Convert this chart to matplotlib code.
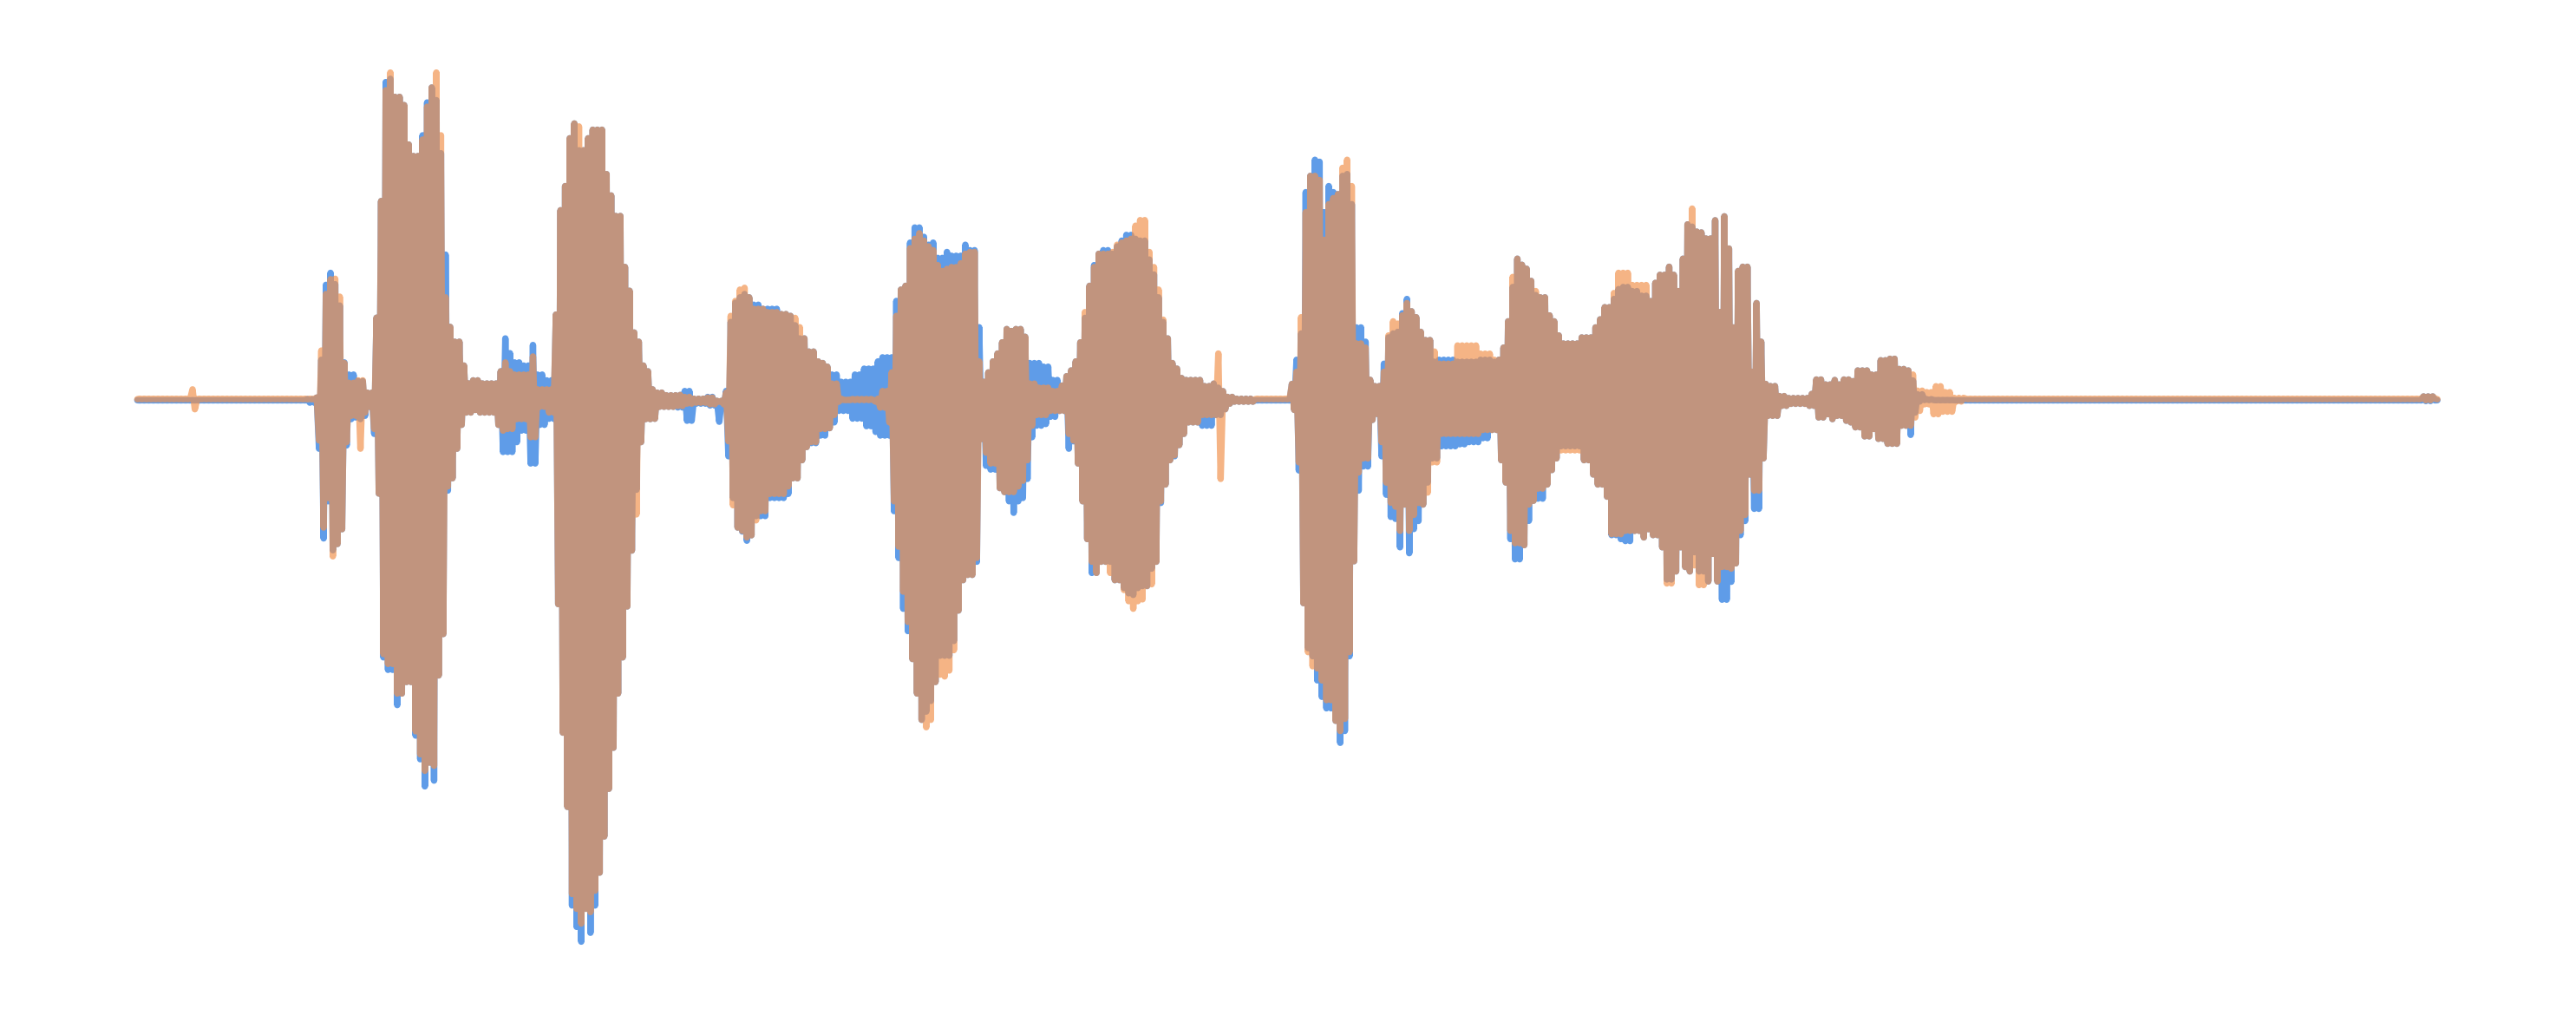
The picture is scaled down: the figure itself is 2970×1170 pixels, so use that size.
import numpy as np
import matplotlib
matplotlib.use('Agg')
import matplotlib.pyplot as plt

# Envelope of the two channels: left edge of each stretch
# and the peak reached up / down in it for each channel
edges = [
    83.6,117,120,186,192.4,194.2,195.9,199.3,200.6,204,206.2,
    208.8,211.4,216.1,217.9,220.9,222.6,226.9,229,231.2,233.4,
    236,239.8,244.1,247,250.6,255.6,258.2,261.4,263.5,266.1,
    268.5,271,273.2,276.5,279.7,282.5,287.2,291.5,302.3,305.6,
    308.8,312,317.4,321.7,326,332.5,337.2,339.4,342.2,344.3,
    346.5,348.7,351.9,354.5,357.9,360.5,363.8,367,369.1,371.7,
    374.5,377.8,379.9,382.1,385.3,387.5,389.6,392.8,396.1,399.3,
    403.6,411.8,416.5,422.4,429.5,435.4,440,442.4,444.8,447.2,
    449.5,451.9,454.7,457.8,462.5,466,474.3,479,481.3,486,
    489.6,491.9,495.5,499,502.5,506,509.6,513.2,517.9,525,
    532,535.5,540.3,543.3,546.1,549,551.3,553.7,556,558.4,
    560.8,563.1,566.2,568.5,570.9,573.3,575.6,579.2,582.7,586.2,
    588.6,593.3,595.6,596.8,599.2,602.7,606.3,608.6,611,613.3,
    615.7,618,621.6,625.1,626.8,629.8,634.5,639.3,644,647.5,
    649.9,652.2,655.7,658.1,661.6,664,666.4,669.9,674.6,678.1,
    681.7,685.2,687.6,689.9,693.5,697,699.4,701.7,704.1,706.4,
    708.8,711.1,713.5,715.9,718.2,721.7,731.2,738.2,740.6,743.7,
    746.5,751.2,763,786.2,787.9,790.2,792.6,794.9,797.3,799.7,
    802.7,805.8,807.4,810.5,812.9,815.2,817.6,820.4,823.2,825.6,
    829.4,832.7,834.5,838.1,840.7,842.6,845.4,848.2,851,853.9,
    855.8,858.6,861.6,864,867.5,871.1,875.8,886.4,893.5,900.5,
    907.6,912.3,914.7,917,919.4,921.7,924.1,927.6,930,932.4,
    935.9,940.6,944.1,946.5,950,961.8,968.9,972.4,976,980.7,
    984.2,987.7,992.5,998.3,1003,1005.4,1010.1,1013.7,1018.4,1020.7,
    1023.1,1025.5,1027.8,1031.4,1033.7,1037.2,1041.5,1043.1,1046.7,1047.9,
    1051.4,1054.9,1057.3,1060.8,1064.3,1066.7,1071.4,1073.8,1076.1,1083.2,
    1087.9,1100.9,1105.6,1110.4,1114.7,1117.5,1121.8,1126,1129,1134.7,
    1139,1143.3,1149,1154.7,1160.5,1163.3,1166.2,1170.5,1176.2,1182,
    1189,1196.2,1475,1481,1484,
]

blue_top = [
    1.4,1.4,1.4,2,3,26,71.6,44,78.9,72,59,
    24.4,17,12,13,10,6,13.5,51.6,122.6,195,
    197,186,181,157,150,162.6,182.6,191.7,184,151.7,
    119,90,46,37,22.5,11.6,13.5,11.6,19,39,
    30,24.4,22.5,35,17,13.5,53.5,117,131.7,142.6,
    160.8,169.8,153.5,153.5,160.8,166,166,155,139,126,
    113.5,97,82.5,68,42.6,37,22.5,19,8,6,
    4.4,4.6,7,2.3,3.4,1,7,29.8,49,60.7,
    64,66,64,59.5,57,57,53.8,52.7,47,39,
    39,31,25,24,21.8,17,12.6,12.6,17,20.6,
    25,27.5,27.5,61.8,68.7,71,87,97.3,106.5,106.5,
    100.8,96,97.3,88,82.4,88,91.6,89.3,89.3,96,
    92.7,75.6,45.8,12.6,18.3,25,29.8,36.6,44.7,43.5,
    48,44.7,40,36.6,24,24,21.8,13.7,10.3,16,
    19.5,25,36.6,51.5,71,83.6,90.5,92.7,90.5,95,
    98.5,102,102,99.6,98.5,93,87,77.9,64,49,
    39,33,24,20.6,14.9,13.7,10,11.5,9,6.9,
    3.4,2.3,1.4,11.3,26,42,128,144,137.9,147.7,
    146.5,115.8,131.7,128,126.8,137.9,139,120.7,81.4,45.7,
    37,13.8,10,10,23.6,39.6,42,43,54.3,42,
    63,55.5,51.9,43,38,24.8,26,24.8,24.8,26,
    24.8,26,33.4,49.4,70.3,87.5,83.8,81.4,74,65.4,
    64,53,49.4,40.8,35.9,39.6,45.7,50.6,58,63,
    69,70.3,67.8,65,61.7,72.8,77.7,82.6,77.7,67.8,
    87.5,108.4,107,104,103.5,99.8,87.5,110.9,55,113.3,
    93.7,45.7,80,82.6,18.7,60.5,37,11.3,10,3.9,
    2.7,5.2,14,11,13.7,11,14,13,19.5,19.5,
    17,25.7,26.6,20.4,19.5,13.4,5,2,1.4,1.4,
    1.4,1.4,3.7,1.4,1.4,
]

blue_bot = [
    -2.6,-2.6,-2.6,-4,-5,-32,-86.6,-64,-93.8,-90,-81,
    -30,-14,-13,-14,-12,-6.5,-23,-59.3,-115.7,-159,
    -166.6,-188,-181,-174,-206.6,-221,-237.5,-223,-234,-170,
    -144.8,-57.5,-50,-32,-17.5,-10,-8.4,-10,-17.5,-34,
    -34,-28,-21,-41,-17.5,-13.8,-64.7,-126.6,-204.8,-250,
    -310,-323,-332,-312,-326.6,-310,-290,-268,-239,-214,
    -181,-159,-128,-94,-57,-36,-28,-14,-13.8,-6.5,
    -6.5,-6.9,-15,-4.6,-5.7,-15.6,-6,-36.6,-62,-80,
    -82.4,-88,-84.7,-73,-73,-62,-62,-59.5,-50,-39,
    -31,-28.6,-28.6,-24,-19.5,-16,-9,-9,-13.7,-18.3,
    -21.8,-24,-24,-70,-98.5,-129.4,-143,-160,-181,-197,
    -197,-192,-185.5,-174,-158,-158,-158,-149,-130.5,-112,
    -108.8,-100.8,-41,-26,-42.4,-44.7,-49,-56,-58.4,-64,
    -71,-64,-62,-50.4,-25,-18,-17,-12.6,-9,-9,
    -32,-27.5,-41,-64,-87,-107.6,-107.6,-100.8,-100.8,-112,
    -116.8,-120,-121,-116.8,-115.6,-115.6,-105,-100.8,-85.9,-65,
    -53.8,-39,-36.6,-29.8,-23,-16,-18,-11.5,-11.5,-8,
    -4.6,-3.4,-2.6,-8.4,-24.3,-45.2,-126,-153.4,-158.3,-173,
    -183,-173,-190,-197.6,-197.6,-211,-203.8,-158.3,-100.5,-57.5,
    -42.8,-28,-14.5,-10.8,-36.6,-60,-73.5,-74.7,-92,-66,
    -95.6,-80.9,-76,-66,-52.6,-37.9,-30.5,-29.3,-28,-25.6,
    -20.6,-39,-52.6,-87,-87,-99.3,-99.3,-90.7,-75.9,-63.7,
    -62.4,-53.8,-45,-37.9,-30.5,-39,-47.7,-53.8,-61.2,-84.6,
    -87,-88.2,-82,-86,-81,-84.6,-92,-111.6,-106.7,-92,
    -101.8,-104,-106.7,-95,-106.7,-112.8,-96,-112.8,-100,-123.9,
    -113,-101.8,-84.6,-76,-47.7,-68.6,-37.9,-13.3,-12,-5.9,
    -4.7,-5.9,-13,-11,-14,-12,-15,-16,-19,-24.5,
    -20,-26,-29,-18,-23.6,-10,-3.3,-2.4,-2.4,-2.4,
    -2.6,-2.6,-3,-2.6,-2.6,
]

orange_top = [
    2,8,2,2,3,31.6,66,44,75,75.3,64.4,
    24,12,8,13.5,8,6,12,51.6,122.6,190,
    200.8,186,181,157,150,160,180,191.7,200.8,162.6,
    119,64,46,37,22.5,11.6,13.5,11.6,19,24.4,
    19,17,17,28,8,8,53.5,117,131.7,142.6,
    160.8,169.8,168,153.5,160.8,166,166,155,139,126,
    113.5,97,82.5,68,42.6,37,22.5,19,8,6,
    4.4,4.6,3.4,2.3,3,1,6,29.8,52.7,61.8,
    68.7,69.8,64,57,57,55,53.8,52.7,51.5,45.8,
    39,31,25,24,21.8,11.5,2.3,1.5,1.5,1.5,
    2.3,7,18.3,52.7,68.7,71,80,93.9,99.6,103,
    98.5,95,92.7,83.6,77.9,80,81.3,82.4,84.7,90.5,
    91.6,75.6,25,12.6,18.3,25,29.8,36.6,44.7,43.5,
    45.8,44.7,40,36.6,11.5,9,9,7,10.3,16,
    19.5,25,36.6,55,71,82.4,90.5,90.5,91.6,96,
    97.3,98.5,99.6,107.6,111,98.5,91.6,82.4,68.7,50.4,
    39,33,24,20.6,14.9,13.7,10,11.5,29.8,6.9,
    3.4,2.3,2,11.3,18.7,51.9,115.8,135.4,137.9,137.9,
    135.4,99,120.7,124.4,126.8,142.8,147.7,131.7,81.4,35.9,
    33.4,13.8,10,10,18.7,40.8,49.4,48,53,42,
    60.5,55.5,51.9,43,38,31,23.6,34.7,34.7,29.7,
    26,26,33.4,49.4,76.4,87.5,83.8,81.4,74,67.8,
    64,53,49.4,40.8,35.9,39.6,45.7,50.6,58,66.6,
    78.9,78.9,71.5,71.5,61.7,72.8,77.7,82.6,77.7,67.8,
    87.5,108.4,118,104,103.5,99.8,87.5,110.9,55,113.3,
    93.7,45.7,80,82.6,18.7,60.5,37,11.3,10,3.9,
    2.7,5.2,14,11,13.7,11,14,13,19.5,19.5,
    17,25.7,26.6,20.4,19.5,17,7.2,6.3,9.9,6.3,
    2.8,2,3.7,2,2,
]

orange_bot = [
    -1.6,-8,-1.6,-1.6,-3,-27,-80,-62,-97.5,-90,-81,
    -28,-12,-12,-32,-10,-6.5,-20,-59.3,-115.7,-157,
    -163,-181,-181,-174,-204,-218,-228,-223,-225,-170,
    -144.8,-55,-50,-32,-17.5,-10,-8.4,-10,-17.5,-21,
    -20,-14,-14,-25,-6.5,-10,-64.7,-126.6,-204.8,-250,
    -303,-312,-321,-312,-314,-301,-290,-268,-239,-214,
    -181,-159,-128,-94,-72,-57,-28,-14,-13.8,-6.5,
    -6.5,-6,-4.6,-4,-5,-3.4,-5,-27.5,-66.4,-80,
    -82,-86,-84.7,-75.6,-70,-59.5,-59.5,-55,-50,-39,
    -31,-28,-28,-20,-19.5,-11.5,-3.4,-2.3,-1.8,-1.8,
    -3.4,-7,-16,-64,-91.6,-119,-137.4,-160,-181,-194.6,
    -197,-201.5,-197,-174,-169.5,-170.6,-167,-154.6,-130.5,-112,
    -108.8,-98.5,-41,-26,-34.4,-41,-43.5,-56,-58.4,-58.4,
    -58.4,-55,-51.5,-39,-18,-11.5,-11.5,-9,-9,-9,
    -23,-27,-41,-64,-87,-100.8,-107.6,-100.8,-107.6,-112,
    -118,-124.8,-129.4,-124.8,-123.7,-115.6,-114.5,-100.8,-80,-64,
    -53.8,-39,-36,-29.8,-23,-16,-11.5,-11.5,-50.4,-8,
    -4.6,-3.4,-1.6,-8.4,-13.3,-40.3,-126,-155.8,-164.4,-165.7,
    -173,-165,-185,-197.6,-197.6,-203.8,-196.4,-155.8,-100.5,-46.5,
    -37.9,-28,-14.5,-10.8,-28,-52.6,-64.9,-67.3,-82,-66,
    -82,-72.3,-65,-66,-58.7,-40.3,-23,-23,-23,-20.6,
    -20.6,-39,-52.6,-87,-82,-89.5,-89.5,-90.7,-66,-63.7,
    -56.3,-53.8,-45,-37.9,-33,-39,-47.7,-53.8,-61.2,-84,
    -84,-82,-82,-86,-81,-84.6,-92,-114,-106.7,-92,
    -101.8,-104,-106.7,-103,-115,-112.8,-96,-112.8,-95,-104,
    -105,-101.8,-82,-72.3,-47.7,-57.5,-37.9,-13.3,-12,-5.9,
    -4.7,-5.9,-13,-11,-14,-12,-15,-16,-19,-24.5,
    -20,-26,-29,-18,-18,-13,-9,-5,-11,-9.5,
    -3.3,-1.6,-2.5,-1.6,-1.6,
]

LINE_PX = 7.4   # stroke width in output pixels
CYCLE = 1.4     # x step between an up and a down swing
SCALE = 2970 / 1568
HALF = LINE_PX / 2 / SCALE   # round cap reach, in data units

plt.rcParams['path.simplify'] = False


# Swing up and down between the envelope values of each stretch
def swing(top, bot):
    x = np.arange(edges[0], edges[-1], CYCLE)
    i = np.searchsorted(edges, x, side='right') - 1
    y = np.where(np.arange(len(x)) % 2 == 0,
                 np.array(top)[i] - HALF, np.array(bot)[i] + HALF)
    return x, y


fig = plt.figure(figsize=(29.7, 11.7), dpi=100)
ax = fig.add_axes([0, 0, 1, 1])

x, y = swing(blue_top, blue_bot)
ax.plot(x, y, color='#5F9CE8', lw=LINE_PX * 0.72,
        solid_capstyle='round', solid_joinstyle='round')
x, y = swing(orange_top, orange_bot)
ax.plot(x, y, color='#F1914C', alpha=0.68, lw=LINE_PX * 0.72,
        solid_capstyle='round', solid_joinstyle='round')

ax.set_xlim(0, 1568)
ax.set_ylim(243 - 1170 / SCALE, 243)
ax.axis('off')

fig.savefig('out.png', dpi=100, facecolor='white')
